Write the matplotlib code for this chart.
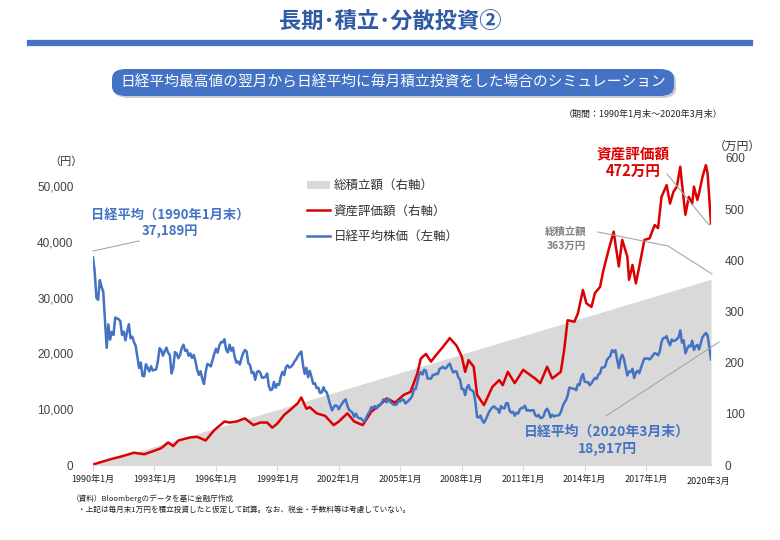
import numpy as np
import matplotlib
matplotlib.use("Agg")
import matplotlib.pyplot as plt
from matplotlib.lines import Line2D
from matplotlib.patches import Patch, FancyBboxPatch

plt.rcParams['font.family'] = ['Noto Sans CJK JP', 'DejaVu Sans']

# Nikkei month-end closes (yen), Jan 1990 - Mar 2020
nikkei = (
    [37189, 34592, 29980, 29585, 33131, 31940, 31036, 25978, 20984, 25194, 22455, 23849]  # 1990
    + [23294, 26409, 26292, 26111, 25790, 23291, 23900, 22336, 23916, 25222, 22688, 22984]  # 1991
    + [22023, 21339, 19346, 17391, 18348, 15952, 15910, 18061, 17399, 16768, 17684, 16925]  # 1992
    + [17024, 17142, 18591, 20919, 20552, 19591, 20380, 21027, 20106, 19703, 16408, 17417]  # 1993
    + [20229, 19997, 19112, 19725, 20974, 21552, 20449, 20629, 19564, 19990, 19180, 19723]  # 1994
    + [18650, 17053, 16140, 16807, 15437, 14517, 16678, 18117, 17913, 17655, 18744, 19868]  # 1995
    + [20813, 20125, 21407, 22041, 21956, 22531, 20693, 20167, 21556, 20467, 21020, 19361]  # 1996
    + [18330, 18557, 18003, 19151, 20069, 20605, 20331, 18229, 17888, 16459, 16636, 15259]  # 1997
    + [16628, 16831, 16527, 15641, 15671, 15831, 16379, 14108, 13406, 13565, 14884, 13842]  # 1998
    + [14499, 14368, 15837, 16702, 16112, 17530, 17862, 17437, 17605, 17942, 18558, 18934]  # 1999
    + [19540, 19960, 20337, 17974, 16332, 17411, 15727, 16861, 15747, 14540, 14649, 13786]  # 2000
    + [13844, 12884, 13000, 13934, 13262, 12969, 11861, 10714, 9775, 10367, 10697, 10543]  # 2001
    + [9998, 10588, 11025, 11493, 11764, 10622, 9877, 9619, 9383, 8640, 9216, 8579]  # 2002
    + [8340, 8363, 7973, 7831, 8425, 9083, 9563, 10344, 10219, 10560, 10101, 10677]  # 2003
    + [10784, 11042, 11715, 11762, 11236, 11859, 11326, 11082, 10824, 10771, 10899, 11489]  # 2004
    + [11388, 11741, 11669, 11009, 11277, 11584, 11900, 12414, 13574, 13607, 14872, 16111]  # 2005
    + [16650, 16205, 17060, 16906, 15468, 15505, 15457, 16141, 16128, 16399, 16274, 17226]  # 2006
    + [17383, 17604, 17288, 17400, 17876, 18138, 17249, 16569, 16786, 16737, 15681, 15308]  # 2007
    + [13592, 13604, 12526, 13850, 14339, 13482, 13377, 13073, 11260, 8577, 8512, 8860]  # 2008
    + [7994, 7568, 8110, 8828, 9523, 9958, 10357, 10493, 10133, 10035, 9346, 10546]  # 2009
    + [10198, 10126, 11090, 11057, 9769, 9383, 9537, 8824, 9369, 9202, 9937, 10229]  # 2010
    + [10238, 10624, 9755, 9850, 9694, 9816, 9833, 8955, 8700, 8988, 8435, 8455]  # 2011
    + [8803, 9723, 10084, 9521, 8543, 9007, 8695, 8840, 8870, 8928, 9446, 10395]  # 2012
    + [11139, 11559, 12398, 13861, 13775, 13677, 13668, 13389, 14456, 14328, 15662, 16291]  # 2013
    + [14915, 14841, 14828, 14304, 14632, 15162, 15621, 15425, 16174, 16414, 17460, 17451]  # 2014
    + [17674, 18798, 19207, 19520, 20563, 20236, 20585, 18890, 17388, 19083, 19747, 19034]  # 2015
    + [17518, 16027, 16759, 16666, 17235, 15576, 16569, 16887, 16450, 17425, 18308, 19114]  # 2016
    + [19041, 19119, 18909, 19197, 19651, 20033, 19925, 19646, 20356, 22012, 22725, 22765]  # 2017
    + [23098, 22068, 21454, 22468, 22202, 22305, 22554, 22865, 24120, 21920, 22351, 20015]  # 2018
    + [20773, 21385, 21206, 22259, 20601, 21276, 21521, 20704, 21756, 22927, 23294, 23657]  # 2019
    + [23205, 21143, 18917]  # 2020
)

# asset value (万円)
asset_dates = ['1990-01', '1990-11', '1991-07', '1992-01', '1992-07', '1993-01', '1993-05',
               '1993-09', '1993-12', '1994-03', '1994-10', '1995-02', '1995-07', '1995-12',
               '1996-06', '1996-09', '1997-01', '1997-06', '1997-11', '1998-03', '1998-07',
               '1998-10', '1999-01', '1999-05', '1999-09', '2000-01', '2000-03', '2000-06',
               '2000-08', '2000-12', '2001-05', '2001-10', '2002-01', '2002-06', '2002-10',
               '2003-03', '2003-08', '2004-01', '2004-05', '2004-10', '2005-03', '2005-07',
               '2005-11', '2006-01', '2006-04', '2006-07', '2006-10', '2007-02', '2007-06',
               '2007-10', '2008-01', '2008-03', '2008-05', '2008-08', '2008-10', '2009-02',
               '2009-07', '2009-11', '2010-01', '2010-04', '2010-08', '2011-01', '2011-05',
               '2011-08', '2011-11', '2012-03', '2012-06', '2012-11', '2013-01', '2013-03',
               '2013-07', '2013-09', '2013-12', '2014-02', '2014-05', '2014-07', '2014-10',
               '2014-12', '2015-03', '2015-06', '2015-07', '2015-09', '2015-11', '2016-02',
               '2016-03', '2016-05', '2016-07', '2016-09', '2016-12', '2017-03', '2017-06',
               '2017-08', '2017-10', '2018-01', '2018-03', '2018-05', '2018-07', '2018-09',
               '2018-10', '2018-12', '2019-02', '2019-04', '2019-05', '2019-07', '2019-08',
               '2019-10', '2019-12', '2020-01', '2020-03']
asset_vals = [1, 11, 18, 24, 21, 28, 33, 44, 37, 48, 54, 55, 48, 68,
              85, 83, 85, 91, 78, 83, 83, 73, 81, 98, 109, 121, 132, 110,
              113, 101, 96, 78, 85, 101, 85, 78, 104, 117, 130, 122, 137, 143,
              179, 208, 217, 202, 215, 231, 248, 233, 212, 182, 205, 192, 137, 117,
              153, 166, 156, 182, 160, 186, 176, 169, 160, 192, 169, 182, 225, 283,
              280, 296, 342, 316, 309, 336, 348, 381, 420, 456, 433, 388, 440, 407,
              362, 391, 355, 388, 440, 443, 469, 463, 524, 547, 511, 534, 544, 583,
              550, 489, 524, 511, 544, 518, 531, 563, 586, 570, 472]

# total contributions (万円)
total_dates = ['1990-01', '2020-03']
total_vals = [0, 363]

xtick_labels = ['1990年1月', '1993年1月', '1996年1月', '1999年1月', '2002年1月', '2005年1月',
                '2008年1月', '2011年1月', '2014年1月', '2017年1月']


def month_idx(s):
    y, m = s.split('-')
    return (int(y) - 1990) * 12 + int(m) - 1


BLUE = '#4472c4'
RED = '#dd0000'
GRAY = '#d9d9d9'
W, H = 780, 540


def fx(x):
    return x / W


def fy(y):
    return 1 - y / H


fig = plt.figure(figsize=(7.8, 5.4), dpi=100)

# header
fig.text(fx(390), fy(22), '長期･積立･分散投資②', ha='center', va='center',
         fontsize=16, fontweight='bold', color='#2f5aa5')
fig.add_artist(Line2D([fx(30), fx(750)], [fy(43), fy(43)], color=BLUE, lw=4.5))
shadow = FancyBboxPatch((fx(114), fy(98)), fx(562), 27 / H,
                        boxstyle='round,pad=0,rounding_size=0.018', transform=fig.transFigure,
                        facecolor='#cccccc', edgecolor='none')
box = FancyBboxPatch((fx(112), fy(96)), fx(562), 27 / H,
                     boxstyle='round,pad=0,rounding_size=0.018', transform=fig.transFigure,
                     facecolor=BLUE, edgecolor='none')
fig.add_artist(shadow)
fig.add_artist(box)
fig.text(fx(393), fy(82.5), '日経平均最高値の翌月から日経平均に毎月積立投資をした場合のシミュレーション',
         ha='center', va='center', fontsize=10.6, color='white')
fig.text(fx(722), fy(114), '（期間：1990年1月末～2020年3月末）', ha='right', va='center',
         fontsize=6.5, color='#222222')

ax = fig.add_axes([fx(93), fy(465), fx(711) - fx(93), (465 - 158) / H])
ax2 = ax.twinx()
ax.set_zorder(ax2.get_zorder() + 1)
ax.patch.set_visible(False)

x_n = np.arange(len(nikkei))
x_a = [month_idx(d) for d in asset_dates]
x_t = [month_idx(d) for d in total_dates]

ax2.fill_between(x_t, 0, total_vals, color=GRAY, lw=0)
ax2.plot(x_a, asset_vals, color=RED, lw=1.8, solid_joinstyle='round')
ax.plot(x_n, nikkei, color=BLUE, lw=1.8, solid_joinstyle='round')

ax.set_xlim(0, len(nikkei) - 1)
ax.set_ylim(0, 55000)
ax2.set_ylim(0, 600)
ax.set_yticks(np.arange(0, 50001, 10000))
ax.set_yticklabels([f'{v:,}' for v in range(0, 50001, 10000)], family='Liberation Sans',
                   fontsize=8.5, color='#404040')
ax2.set_yticks(np.arange(0, 601, 100))
ax2.set_yticklabels([str(v) for v in range(0, 601, 100)], family='Liberation Sans',
                    fontsize=8.5, color='#404040')
ax.tick_params(axis='y', length=0, pad=14)
ax2.tick_params(axis='y', length=0, pad=10)
ax.set_xticks(np.arange(0, 325, 36))
ax.set_xticklabels(xtick_labels, fontsize=6.5, color='#222222')
ax.tick_params(axis='x', length=4, color=GRAY, pad=3)
for a in (ax, ax2):
    for s in a.spines.values():
        s.set_visible(False)
ax.spines['bottom'].set_visible(True)
ax.spines['bottom'].set_color(GRAY)

fig.text(fx(708), fy(481), '2020年3月', ha='center', va='center', fontsize=6.5, color='#222222')
fig.text(fx(66), fy(162), '（円）', ha='center', va='center', fontsize=8, color='#333333')
fig.text(fx(737), fy(146), '（万円）', ha='center', va='center', fontsize=8.5, color='#333333')

handles = [Patch(facecolor=GRAY, edgecolor='none'),
           Line2D([], [], color=RED, lw=1.8),
           Line2D([], [], color=BLUE, lw=1.8)]
fig.legend(handles, ['総積立額（右軸）', '資産評価額（右軸）', '日経平均株価（左軸）'],
           loc='upper left', bbox_to_anchor=(fx(296), fy(168)), frameon=False, fontsize=9,
           labelspacing=1.0, handlelength=1.8, handletextpad=0.3, labelcolor='#333333')

# annotations
fig.text(fx(170), fy(215), '日経平均（1990年1月末）', ha='center', va='center', fontsize=9.5,
         fontweight='bold', color=BLUE)
fig.text(fx(170), fy(231), '37,189円', ha='center', va='center', fontsize=9.5,
         fontweight='bold', color=BLUE)
fig.add_artist(Line2D([fx(93), fx(139)], [fy(251), fy(241)], color='#a6a6a6', lw=0.8))

fig.text(fx(633), fy(153), '資産評価額', ha='center', va='center', fontsize=10.5,
         fontweight='bold', color=RED)
fig.text(fx(633), fy(171), '472万円', ha='center', va='center', fontsize=10.5,
         fontweight='bold', color=RED)
fig.add_artist(Line2D([fx(667), fx(709)], [fy(174), fy(225)], color='#a6a6a6', lw=0.8))

fig.text(fx(566), fy(232), '総積立額', ha='center', va='center', fontsize=7.5,
         fontweight='bold', color='#7f7f7f')
fig.text(fx(566), fy(246), '363万円', ha='center', va='center', fontsize=7.5,
         fontweight='bold', color='#7f7f7f')
fig.add_artist(Line2D([fx(598), fx(668), fx(712)], [fy(232), fy(246), fy(274)],
                      color='#a6a6a6', lw=0.8))

fig.text(fx(607), fy(432), '日経平均（2020年3月末）', ha='center', va='center', fontsize=10,
         fontweight='bold', color=BLUE)
fig.text(fx(607), fy(449), '18,917円', ha='center', va='center', fontsize=10,
         fontweight='bold', color=BLUE)
fig.add_artist(Line2D([fx(606), fx(719)], [fy(416), fy(342)], color='#a6a6a6', lw=0.8))

# footnotes
fig.text(fx(72), fy(499), '（資料）Bloombergのデータを基に金融庁作成', ha='left', va='center',
         fontsize=5.5, color='#222222')
fig.text(fx(78), fy(510), '・上記は毎月末1万円を積立投資したと仮定して試算。なお、税金・手数料等は考慮していない。',
         ha='left', va='center', fontsize=5.5, color='#222222')

fig.savefig('out.png', dpi=100)
